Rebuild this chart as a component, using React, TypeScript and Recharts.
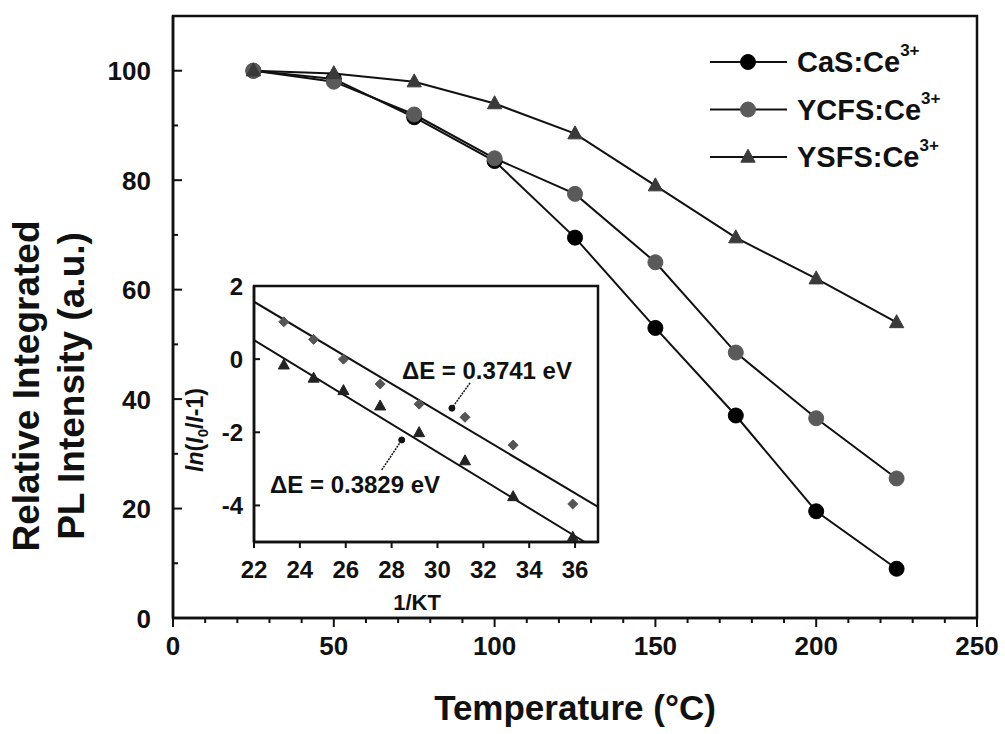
import React from 'react';
import {
  LineChart,
  Line,
  XAxis,
  YAxis,
  Legend,
  ReferenceArea,
  ScatterChart,
  Scatter,
  ReferenceLine,
  ReferenceDot,
} from 'recharts';

// Main panel: relative integrated PL intensity vs. temperature
const temperatures = [25, 50, 75, 100, 125, 150, 175, 200, 225];
const casIntensity = [100, 98.5, 91.5, 83.5, 69.5, 53, 37, 19.5, 9];
const ycfsIntensity = [100, 98, 92, 84, 77.5, 65, 48.5, 36.5, 25.5];
const ysfsIntensity = [100, 99.5, 98, 94, 88.5, 79, 69.5, 62, 54];

const mainXTicks = [0, 10, 20, 30, 40, 50, 60, 70, 80, 90, 100, 110, 120, 130, 140, 150, 160, 170, 180, 190, 200, 210, 220, 230, 240, 250];
const mainYTicks = [0, 10, 20, 30, 40, 50, 60, 70, 80, 90, 100];

// Inset: ln(I0/I - 1) vs. 1/kT with linear fits
const invKT = [23.3, 24.6, 25.9, 27.5, 29.2, 31.2, 33.3, 35.9];
const lnUpper = [1.02, 0.54, 0.0, -0.68, -1.23, -1.59, -2.35, -3.96];
const lnLower = [-0.16, -0.52, -0.86, -1.28, -2.01, -2.78, -3.76, -4.87];
const fitUpperX = [22, 37];
const fitUpperY = [1.57, -4.04];
const fitLowerX = [22, 36.42];
const fitLowerY = [0.52, -5];
const insetXTicks = [22, 24, 26, 28, 30, 32, 34, 36];
const insetYTicks = [-4, -2, 0, 2];

const FONT = '"Liberation Sans", Arial, Helvetica, sans-serif';
const INK = '#111';

const mainData = temperatures.map((t, i) => ({
  t,
  cas: casIntensity[i],
  ycfs: ycfsIntensity[i],
  ysfs: ysfsIntensity[i],
}));

const upperPts = invKT.map((x, i) => ({ x, y: lnUpper[i] }));
const lowerPts = invKT.map((x, i) => ({ x, y: lnLower[i] }));

const CircleDot = (fill: string, r: number) => (p: any) =>
  p.cx == null ? null : <circle key={p.key} cx={p.cx} cy={p.cy} r={r} fill={fill} stroke={fill} />;

const TriangleDot = (fill: string, s: number) => (p: any) =>
  p.cx == null ? null : (
    <path
      key={p.key}
      d={`M${p.cx},${p.cy - s * 0.6} L${p.cx + s * 0.55},${p.cy + s * 0.4} L${p.cx - s * 0.55},${p.cy + s * 0.4} Z`}
      fill={fill}
      stroke={fill}
    />
  );

const DiamondDot = (fill: string, s: number) => (p: any) =>
  p.cx == null ? null : (
    <path
      key={p.key}
      d={`M${p.cx},${p.cy - s} L${p.cx + s},${p.cy} L${p.cx},${p.cy + s} L${p.cx - s},${p.cy} Z`}
      fill={fill}
      stroke={fill}
    />
  );

const series = [
  { key: 'cas', name: 'CaS:Ce', color: '#000', dot: CircleDot('#000', 7.5) },
  { key: 'ycfs', name: 'YCFS:Ce', color: '#5a5a5a', dot: CircleDot('#5a5a5a', 7.5) },
  { key: 'ysfs', name: 'YSFS:Ce', color: '#3a3a3a', dot: TriangleDot('#3a3a3a', 13) },
];

const MainXTick = (props: any) => {
  const { x, y, payload } = props;
  const v = payload.value;
  const major = v % 50 === 0;
  return (
    <g>
      <line x1={x} x2={x} y1={y} y2={y + (major ? 9 : 5)} stroke={INK} strokeWidth={2} />
      {major && (
        <text x={x} y={y + 37} textAnchor="middle" fontSize={26} fontWeight="bold" fill={INK} fontFamily={FONT}>
          {v}
        </text>
      )}
    </g>
  );
};

const MainYTick = (props: any) => {
  const { x, y, payload } = props;
  const v = payload.value;
  const major = v % 20 === 0;
  return (
    <g>
      <line x1={x} x2={x + (major ? 9 : 5)} y1={y} y2={y} stroke={INK} strokeWidth={2} />
      {major && (
        <text x={x - 22} y={y + 9.5} textAnchor="end" fontSize={26} fontWeight="bold" fill={INK} fontFamily={FONT}>
          {v}
        </text>
      )}
    </g>
  );
};

const InsetXTick = (props: any) => {
  const { x, y, payload } = props;
  return (
    <g>
      <line x1={x} x2={x} y1={y} y2={y + 6} stroke={INK} strokeWidth={2} />
      <text x={x} y={y + 36} textAnchor="middle" fontSize={24} fontWeight="bold" fill={INK} fontFamily={FONT}>
        {payload.value}
      </text>
    </g>
  );
};

const InsetYTick = (props: any) => {
  const { x, y, payload } = props;
  return (
    <g>
      <line x1={x} x2={x + 6} y1={y} y2={y} stroke={INK} strokeWidth={2} />
      <text x={x - 11} y={y + 8.5} textAnchor="end" fontSize={24} fontWeight="bold" fill={INK} fontFamily={FONT}>
        {payload.value}
      </text>
    </g>
  );
};

const renderLegend = () => (
  <svg width={280} height={160} style={{ display: 'block' }}>
    {series.map((s, i) => {
      const y = 32 + i * 47.5;
      const Dot = s.dot;
      return (
        <g key={s.key}>
          <line x1={5} x2={82} y1={y} y2={y} stroke={INK} strokeWidth={2} />
          {Dot({ cx: 43, cy: y, key: s.key })}
          <text x={92} y={y + 10} fontSize={29} fontWeight="bold" fill={INK} fontFamily={FONT}>
            {s.name}
            <tspan fontSize={17} dy={-16}>
              3+
            </tspan>
          </text>
        </g>
      );
    })}
  </svg>
);

const annotation = (text: string) => (p: any) =>
  (
    <text x={p.cx} y={p.cy + 8.5} fontSize={24} fontWeight="bold" fill={INK} fontFamily={FONT}>
      {text}
    </text>
  );

export default function App() {
  return (
    <div style={{ position: 'absolute', left: 0, top: 0, width: 1005, height: 734, background: '#fff' }}>
      <LineChart
        width={1005}
        height={734}
        data={mainData}
        margin={{ top: 16, right: 28, left: 113, bottom: 76 }}
      >
        <XAxis
          dataKey="t"
          type="number"
          domain={[0, 250]}
          ticks={mainXTicks}
          interval={0}
          height={40}
          tickSize={0}
          tickMargin={0}
          tickLine={false}
          tick={<MainXTick />}
          axisLine={{ stroke: INK, strokeWidth: 2.5 }}
        />
        <YAxis
          type="number"
          domain={[0, 110]}
          ticks={mainYTicks}
          interval={0}
          width={60}
          tickSize={0}
          tickMargin={0}
          tickLine={false}
          tick={<MainYTick />}
          axisLine={{ stroke: INK, strokeWidth: 2.5 }}
        />
        <ReferenceArea x1={0} x2={250} y1={0} y2={110} fill="none" stroke={INK} strokeWidth={2.5} ifOverflow="visible" />
        {series.map((s) => (
          <Line
            key={s.key}
            dataKey={s.key}
            name={s.name}
            type="linear"
            stroke={INK}
            strokeWidth={2}
            dot={s.dot}
            activeDot={false}
            isAnimationActive={false}
          />
        ))}
        <Legend
          layout="vertical"
          align="center"
          verticalAlign="middle"
          content={renderLegend}
          wrapperStyle={{ position: 'absolute', left: 705, top: 30, width: 280, height: 160 }}
        />
      </LineChart>

      <div style={{ position: 'absolute', left: 180, top: 270, width: 440, height: 350 }}>
        <ScatterChart width={440} height={350} margin={{ top: 16, right: 22, left: 34, bottom: 38 }}>
          <XAxis
            dataKey="x"
            type="number"
            domain={[22, 37]}
            ticks={insetXTicks}
            interval={0}
            height={40}
            tickSize={0}
            tickMargin={0}
            tickLine={false}
            tick={<InsetXTick />}
            axisLine={{ stroke: INK, strokeWidth: 2.5 }}
          />
          <YAxis
            dataKey="y"
            type="number"
            domain={[-5, 2]}
            ticks={insetYTicks}
            interval={0}
            width={40}
            tickSize={0}
            tickMargin={0}
            tickLine={false}
            tick={<InsetYTick />}
            axisLine={{ stroke: INK, strokeWidth: 2.5 }}
          />
          <ReferenceArea x1={22} x2={37} y1={-5} y2={2} fill="none" stroke={INK} strokeWidth={2.5} ifOverflow="visible" />
          <ReferenceLine
            segment={[
              { x: fitUpperX[0], y: fitUpperY[0] },
              { x: fitUpperX[1], y: fitUpperY[1] },
            ]}
            stroke={INK}
            strokeWidth={2}
            ifOverflow="visible"
          />
          <ReferenceLine
            segment={[
              { x: fitLowerX[0], y: fitLowerY[0] },
              { x: fitLowerX[1], y: fitLowerY[1] },
            ]}
            stroke={INK}
            strokeWidth={2}
            ifOverflow="visible"
          />
          <Scatter data={upperPts} shape={DiamondDot('#555', 5)} isAnimationActive={false} />
          <Scatter data={lowerPts} shape={TriangleDot('#222', 10)} isAnimationActive={false} />
          {/* leader lines for the activation-energy labels */}
          <ReferenceLine
            segment={[
              { x: 31.42, y: -0.65 },
              { x: 30.63, y: -1.34 },
            ]}
            stroke={INK}
            strokeWidth={1.5}
            strokeDasharray="2 1"
            ifOverflow="visible"
          />
          <ReferenceDot x={30.63} y={-1.34} r={3} fill={INK} stroke={INK} ifOverflow="visible" />
          <ReferenceLine
            segment={[
              { x: 27.57, y: -3.03 },
              { x: 28.44, y: -2.21 },
            ]}
            stroke={INK}
            strokeWidth={1.5}
            strokeDasharray="2 1"
            ifOverflow="visible"
          />
          <ReferenceDot x={28.44} y={-2.21} r={3} fill={INK} stroke={INK} ifOverflow="visible" />
          <ReferenceDot x={28.45} y={-0.3} r={1} ifOverflow="visible" shape={annotation('\u0394E = 0.3741 eV')} />
          <ReferenceDot x={22.7} y={-3.44} r={1} ifOverflow="visible" shape={annotation('\u0394E = 0.3829 eV')} />
        </ScatterChart>
      </div>

      {/* axis titles */}
      <svg
        width={1005}
        height={734}
        style={{ position: 'absolute', left: 0, top: 0, pointerEvents: 'none' }}
      >
        <text
          x={575}
          y={720}
          textAnchor="middle"
          fontSize={35}
          fontWeight="bold"
          fill={INK}
          fontFamily={FONT}
        >
          Temperature (°C)
        </text>
        <text
          transform="translate(39,386) rotate(-90)"
          textAnchor="middle"
          fontSize={37}
          fontWeight="bold"
          fill={INK}
          fontFamily={FONT}
        >
          Relative Integrated
        </text>
        <text
          transform="translate(84,386) rotate(-90)"
          textAnchor="middle"
          fontSize={37}
          fontWeight="bold"
          fill={INK}
          fontFamily={FONT}
        >
          PL Intensity (a.u.)
        </text>
        <text x={417} y={610} textAnchor="middle" fontSize={22} fontWeight="bold" fill={INK} fontFamily={FONT}>
          1/KT
        </text>
        <text
          transform="translate(203,430) rotate(-90)"
          textAnchor="middle"
          fontSize={23}
          fontWeight="bold"
          fill={INK}
          fontFamily={FONT}
        >
          <tspan fontStyle="italic">ln</tspan>(<tspan fontStyle="italic">I</tspan>
          <tspan fontSize={15} dy={5}>0</tspan>
          <tspan dy={-5}>/</tspan>
          <tspan fontStyle="italic">I</tspan>-1)
        </text>
      </svg>
    </div>
  );
}
